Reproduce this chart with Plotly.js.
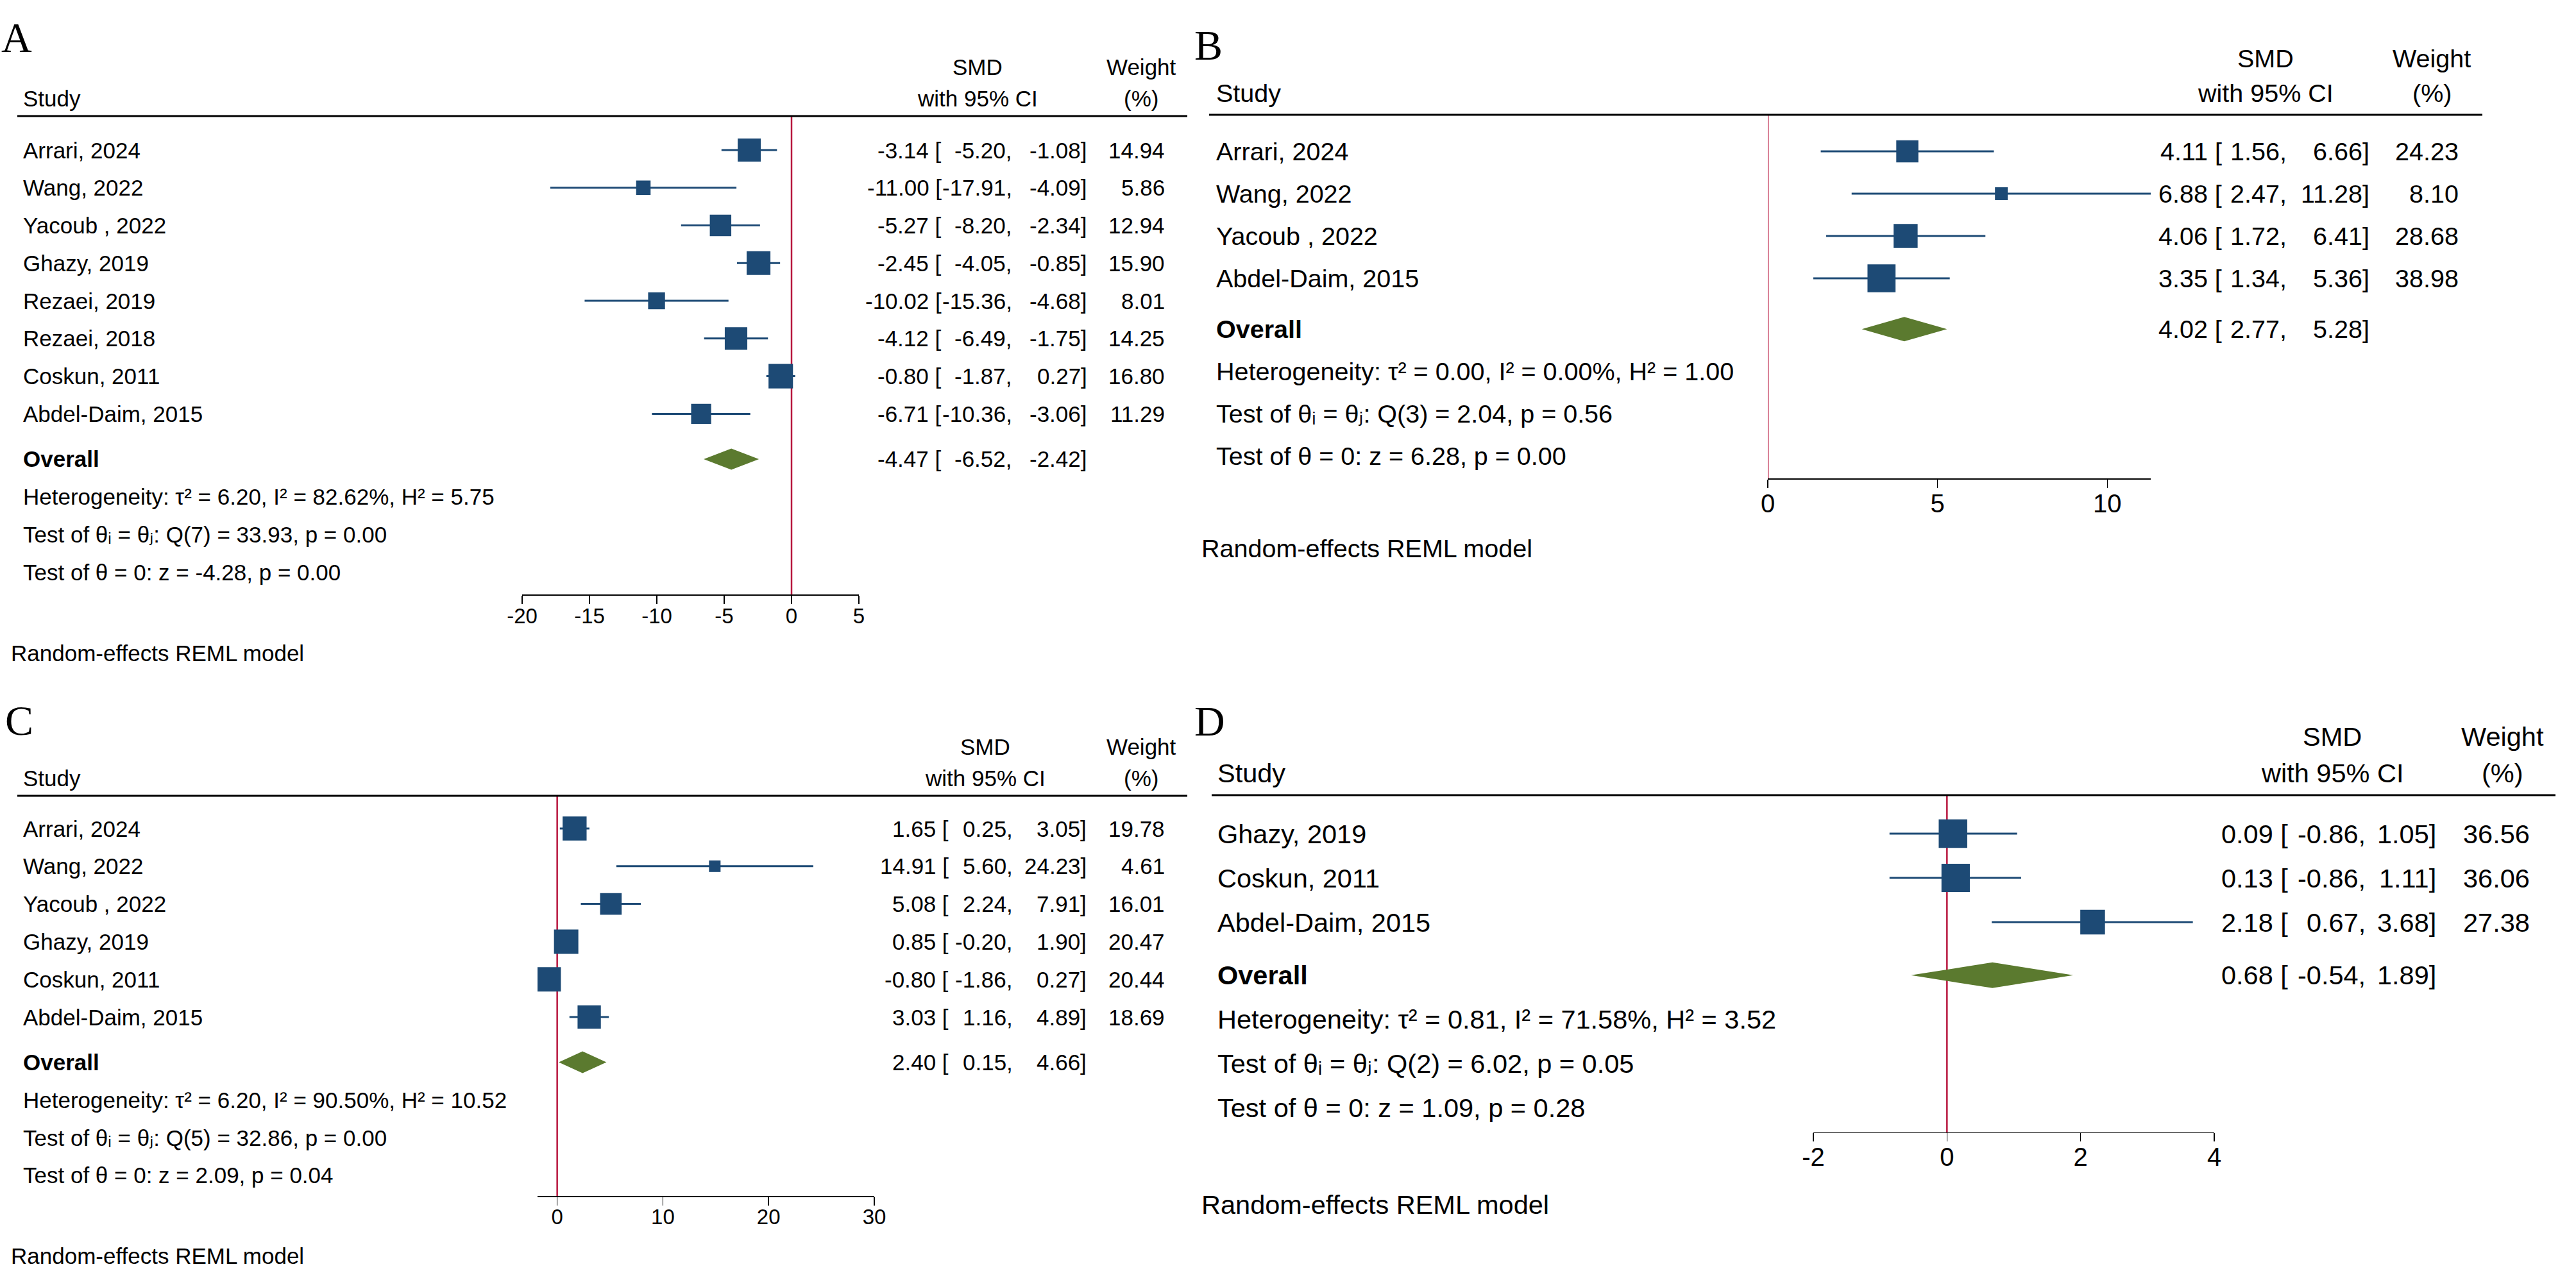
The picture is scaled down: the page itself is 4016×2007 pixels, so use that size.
<!DOCTYPE html>
<html>
<head>
<meta charset="utf-8">
<script src="https://cdn.plot.ly/plotly-3.0.1.min.js"></script>
<style>
  html, body { margin: 0; padding: 0; background: #ffffff; }
  #chart { width: 4016px; height: 2007px; }
</style>
</head>
<body>
<div id="chart"></div>
<script>
// ---- Panel A: SMD of eight studies ----
const studiesA = ["Arrari, 2024", "Wang, 2022", "Yacoub , 2022", "Ghazy, 2019", "Rezaei, 2019", "Rezaei, 2018", "Coskun, 2011", "Abdel-Daim, 2015"];
const smdA     = [-3.14, -11.00, -5.27, -2.45, -10.02, -4.12, -0.80, -6.71];
const lowerA   = [-5.20, -17.91, -8.20, -4.05, -15.36, -6.49, -1.87, -10.36];
const upperA   = [-1.08, -4.09, -2.34, -0.85, -4.68, -1.75, 0.27, -3.06];
const weightA  = [14.94, 5.86, 12.94, 15.90, 8.01, 14.25, 16.80, 11.29];
const overallA = [-4.47, -6.52, -2.42];          // estimate, lower, upper
const statsA   = [6.20, 82.62, 5.75, 7, 33.93, 0.00, -4.28, 0.00]; // tau2, I2, H2, df, Q, pQ, z, pz
const ticksA   = [-20, -15, -10, -5, 0, 5];

// ---- Panel B ----
const studiesB = ["Arrari, 2024", "Wang, 2022", "Yacoub , 2022", "Abdel-Daim, 2015"];
const smdB     = [4.11, 6.88, 4.06, 3.35];
const lowerB   = [1.56, 2.47, 1.72, 1.34];
const upperB   = [6.66, 11.28, 6.41, 5.36];
const weightB  = [24.23, 8.10, 28.68, 38.98];
const overallB = [4.02, 2.77, 5.28];
const statsB   = [0.00, 0.00, 1.00, 3, 2.04, 0.56, 6.28, 0.00];
const ticksB   = [0, 5, 10];

// ---- Panel C ----
const studiesC = ["Arrari, 2024", "Wang, 2022", "Yacoub , 2022", "Ghazy, 2019", "Coskun, 2011", "Abdel-Daim, 2015"];
const smdC     = [1.65, 14.91, 5.08, 0.85, -0.80, 3.03];
const lowerC   = [0.25, 5.60, 2.24, -0.20, -1.86, 1.16];
const upperC   = [3.05, 24.23, 7.91, 1.90, 0.27, 4.89];
const weightC  = [19.78, 4.61, 16.01, 20.47, 20.44, 18.69];
const overallC = [2.40, 0.15, 4.66];
const statsC   = [6.20, 90.50, 10.52, 5, 32.86, 0.00, 2.09, 0.04];
const ticksC   = [0, 10, 20, 30];

// ---- Panel D ----
const studiesD = ["Ghazy, 2019", "Coskun, 2011", "Abdel-Daim, 2015"];
const smdD     = [0.09, 0.13, 2.18];
const lowerD   = [-0.86, -0.86, 0.67];
const upperD   = [1.05, 1.11, 3.68];
const weightD  = [36.56, 36.06, 27.38];
const overallD = [0.68, -0.54, 1.89];
const statsD   = [0.81, 71.58, 3.52, 2, 6.02, 0.05, 1.09, 0.28];
const ticksD   = [-2, 0, 2, 4];

const panelLetters = ["A", "B", "C", "D"];
const footnote = "Random-effects REML model";

// ---- page geometry (pixels) ----
const W = 4016, H = 2007;
const px = v => v / W;
const py = v => 1 - v / H;

const SANS = "Liberation Sans, Arial, DejaVu Sans, sans-serif";
const SERIF = "Liberation Serif, Times New Roman, serif";
const NAVY = "#1d4a75";
const OLIVE = "#5b7a2f";
const CRIMSON = "#b8173f";

const panels = [
  { studies: studiesA, smd: smdA, lo: lowerA, hi: upperA, w: weightA, overall: overallA, stats: statsA, ticks: ticksA,
    g: { letter: [0, 59], header: 181, first: 234, step: 58.77, gap: 0.6, axis: [814, 1339], studyX: 34,
         lineX: [27, 1851], hdrX: [1524, 1779], hdrOff: [76, 28], cols: [1470, 1580, 1697, 1818],
         foot: [15, 1018], fs: 35, tfs: 33, box: 9.3, dia: 16.5 } },
  { studies: studiesB, smd: smdB, lo: lowerB, hi: upperB, w: weightB, overall: overallB, stats: statsB, ticks: ticksB,
    g: { letter: [1860, 71], header: 179, first: 236, step: 66, gap: 0.53, axis: [2756, 3353], studyX: 1894,
         lineX: [1885, 3870], hdrX: [3532, 3791], hdrOff: [88, 34], cols: [3466, 3567, 3696, 3835],
         foot: [1871, 855], fs: 39.5, tfs: 40, box: 7.0, dia: 19 } },
  { studies: studiesC, smd: smdC, lo: lowerC, hi: upperC, w: weightC, overall: overallC, stats: statsC, ticks: ticksC,
    g: { letter: [6, 1123], header: 1241, first: 1292, step: 58.8, gap: 0.55, axis: [838, 1363], studyX: 34,
         lineX: [27, 1851], hdrX: [1536, 1779], hdrOff: [77, 28], cols: [1481, 1581, 1696, 1818],
         foot: [15, 1958], fs: 35, tfs: 33, box: 8.4, dia: 17 } },
  { studies: studiesD, smd: smdD, lo: lowerD, hi: upperD, w: weightD, overall: overallD, stats: statsD, ticks: ticksD,
    g: { letter: [1860, 1124], header: 1240, first: 1300, step: 69, gap: 0.55, axis: [2827, 3452], studyX: 1896,
         lineX: [1889, 3984], hdrX: [3636, 3901], hdrOff: [92, 35], cols: [3569, 3690, 3800, 3946],
         foot: [1871, 1878], fs: 41.5, tfs: 40, box: 7.36, dia: 20 } }
];

const traces = [];
const annotations = [];
const shapes = [];
const layout = {
  width: W, height: H,
  margin: { l: 0, r: 0, t: 0, b: 0, pad: 0 },
  paper_bgcolor: "#ffffff", plot_bgcolor: "rgba(0,0,0,0)",
  showlegend: false,
  font: { family: SANS, color: "#000000" },
  annotations, shapes
};

function txt(x, y, text, size, opts) {
  return Object.assign({
    x, y, text, showarrow: false, xref: "paper", yref: "paper",
    xanchor: "left", yanchor: "middle", font: { family: SANS, size, color: "#000000" }
  }, opts || {});
}

panels.forEach((p, i) => {
  const g = p.g;
  const sfx = i === 0 ? "" : String(i + 1);
  const xa = "x" + sfx, ya = "y" + sfx;
  const n = p.studies.length;
  const rows = p.studies.map((_, k) => k);
  const overallRow = n + 0.2;
  const statRows = [n + 1.2, n + 2.2, n + 3.2];
  const bottomRow = n + 3.2 + g.gap;
  const topRow = (g.header - g.first) / g.step;
  const bottomPx = g.first + g.step * bottomRow;
  // vertical page position (paper units) of a row index
  const rowY = r => py(g.first + g.step * r);

  const xmin = Math.min(p.ticks[0], ...p.lo);
  const xmax = Math.max(p.ticks[p.ticks.length - 1], ...p.hi);

  layout["xaxis" + sfx] = {
    domain: [px(g.axis[0]), px(g.axis[1])], range: [xmin, xmax], anchor: ya,
    showline: true, linecolor: "#000000", linewidth: 1.5,
    ticks: "outside", ticklen: 13, tickwidth: 1.5, tickcolor: "#000000",
    ticklabelstandoff: -10,
    tickmode: "array", tickvals: p.ticks, ticktext: p.ticks.map(String),
    tickfont: { family: SANS, size: g.tfs, color: "#000000" },
    showgrid: false, zeroline: false, fixedrange: true
  };
  layout["yaxis" + sfx] = {
    domain: [py(bottomPx), py(g.header)], range: [bottomRow, topRow], anchor: xa,
    visible: false, showgrid: false, zeroline: false, fixedrange: true
  };

  // confidence-interval whiskers
  const cx = [], cy = [];
  rows.forEach(k => { cx.push(p.lo[k], p.hi[k], null); cy.push(k, k, null); });
  traces.push({ type: "scatter", mode: "lines", x: cx, y: cy, xaxis: xa, yaxis: ya,
    line: { color: NAVY, width: 3 }, hoverinfo: "skip" });

  // weight-scaled study boxes
  traces.push({ type: "scatter", mode: "markers", x: p.smd, y: rows, xaxis: xa, yaxis: ya,
    marker: { symbol: "square", size: p.w.map(v => g.box * Math.sqrt(v)), color: NAVY, opacity: 1, line: { width: 0 } },
    hoverinfo: "skip" });

  // pooled estimate diamond
  const h = g.dia / g.step;
  const [est, olo, ohi] = p.overall;
  traces.push({ type: "scatter", mode: "lines", fill: "toself", xaxis: xa, yaxis: ya,
    x: [olo, est, ohi, est, olo], y: [overallRow, overallRow - h, overallRow, overallRow + h, overallRow],
    fillcolor: OLIVE, line: { width: 0, color: OLIVE }, hoverinfo: "skip" });

  // line of no effect
  shapes.push({ type: "line", xref: xa, yref: ya + " domain", x0: 0, x1: 0, y0: 0, y1: 1,
    line: { color: CRIMSON, width: 2.5 }, layer: "below" });
  // rule under the column headings
  shapes.push({ type: "line", xref: "paper", yref: "paper", x0: px(g.lineX[0]), x1: px(g.lineX[1]),
    y0: py(g.header), y1: py(g.header), line: { color: "#000000", width: 3 } });

  // panel letter
  annotations.push(txt(px(g.letter[0]), py(g.letter[1]), panelLetters[i], 66, { font: { family: SERIF, size: 66, color: "#000000" } }));

  // column headings
  const h1 = py(g.header - g.hdrOff[0]), h2 = py(g.header - g.hdrOff[1]);
  annotations.push(txt(px(g.studyX), h2, "Study", g.fs));
  annotations.push(txt(px(g.hdrX[0]), h1, "SMD", g.fs, { xanchor: "center" }));
  annotations.push(txt(px(g.hdrX[0]), h2, "with 95% CI", g.fs, { xanchor: "center" }));
  annotations.push(txt(px(g.hdrX[1]), h1, "Weight", g.fs, { xanchor: "center" }));
  annotations.push(txt(px(g.hdrX[1]), h2, "(%)", g.fs, { xanchor: "center" }));

  const f2 = v => v.toFixed(2);
  const valueCells = (y, e, l, u) => {
    annotations.push(txt(px(g.cols[0]), y, f2(e) + " [", g.fs, { xanchor: "right" }));
    annotations.push(txt(px(g.cols[1]), y, f2(l) + ",", g.fs, { xanchor: "right" }));
    annotations.push(txt(px(g.cols[2]), y, f2(u) + "]", g.fs, { xanchor: "right" }));
  };

  rows.forEach(k => {
    const y = rowY(k);
    annotations.push(txt(px(g.studyX), y, p.studies[k], g.fs));
    valueCells(y, p.smd[k], p.lo[k], p.hi[k]);
    annotations.push(txt(px(g.cols[3]), y, f2(p.w[k]), g.fs, { xanchor: "right" }));
  });

  annotations.push(txt(px(g.studyX), rowY(overallRow), "<b>Overall</b>", g.fs));
  valueCells(rowY(overallRow), est, olo, ohi);

  // heterogeneity and test statistics (Unicode super/subscripts)
  const s = p.stats;
  const statText = [
    `Heterogeneity: τ² = ${f2(s[0])}, I² = ${f2(s[1])}%, H² = ${f2(s[2])}`,
    `Test of θᵢ = θⱼ: Q(${s[3]}) = ${f2(s[4])}, p = ${f2(s[5])}`,
    `Test of θ = 0: z = ${f2(s[6])}, p = ${f2(s[7])}`
  ];
  statText.forEach((t, k) => annotations.push(txt(px(g.studyX), rowY(statRows[k]), t, g.fs)));

  annotations.push(txt(px(g.foot[0]), py(g.foot[1]), footnote, g.fs));
});

Plotly.newPlot("chart", traces, layout, { staticPlot: true, displayModeBar: false });
</script>
</body>
</html>
